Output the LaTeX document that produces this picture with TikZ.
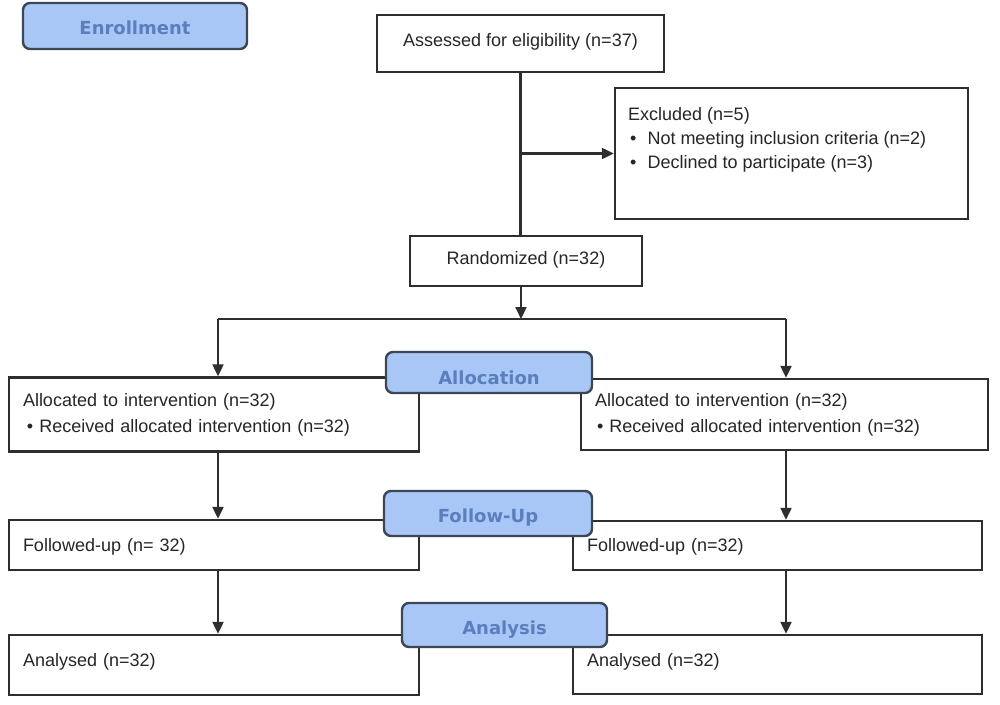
\documentclass[tikz,border=0pt]{standalone}
\usepackage{fontspec}
\setmainfont{Liberation Sans}
\newfontfamily\headfont{DejaVu Sans}
\usetikzlibrary{arrows.meta}
\definecolor{hdrfill}{HTML}{A9C7F6}
\definecolor{hdrtext}{HTML}{5A7EBE}
\definecolor{hdrdraw}{HTML}{3C4654}
\definecolor{linec}{HTML}{2E2E2E}
\definecolor{txt}{HTML}{262626}
\begin{document}
\begin{tikzpicture}[x=1pt,y=-1pt,
  box/.style={draw=linec, line width=2.4pt, fill=white, rectangle, inner sep=0pt,
    font=\fontsize{18}{26}\selectfont, text=txt},
  lbox/.style={box, inner xsep=14pt, align=left},
  hdr/.style={draw=hdrdraw, line width=2.4pt, fill=hdrfill, rounded corners=7pt,
    text=hdrtext, font=\headfont\bfseries\fontsize{18}{22}\selectfont,
    inner sep=0pt, text height=16pt, text depth=0pt},
  lbl/.style={font=\fontsize{18}{24}\selectfont, text=txt, align=left, inner sep=0pt},
  arr/.style={draw=linec, line width=2.2pt, -{Triangle[length=12pt,width=11pt]}},
  ln/.style={draw=linec, line width=2.2pt}
]
\useasboundingbox (0,0) rectangle (1000,704);

% main boxes
\node[box, minimum width=287pt, minimum height=57pt, text depth=7.5pt] (assess) at (520.5,43.5)
  {Assessed for eligibility (n=37)};
\node[box, minimum width=353pt, minimum height=131pt] (excl) at (791.5,153.5) {};
\node[lbl, anchor=north west] (excltxt) at (628,107)
  {Excluded (n=5)\\
   \hspace*{2pt}•\hspace{11pt}Not meeting inclusion criteria (n=2)\\
   \hspace*{2pt}•\hspace{11pt}Declined to participate (n=3)};
\node[box, minimum width=232pt, minimum height=50pt, text depth=6.5pt] (rand) at (526,261)
  {Randomized (n=32)};

\node[lbox, minimum width=410pt, minimum height=74pt, text width=382pt] (allocL) at (214,414.5)
  {Allocated to intervention (n=32)\\ \hspace*{4pt}• Received allocated intervention (n=32)};
\node[lbox, minimum width=407pt, minimum height=71pt, text width=379pt] (allocR) at (784.5,414.5)
  {Allocated to intervention (n=32)\\ \hspace*{2pt}• Received allocated intervention (n=32)};

\node[lbox, minimum width=410pt, minimum height=50pt, text width=382pt, text height=16pt] (followL) at (214,545)
  {Followed-up (n= 32)};
\node[lbox, minimum width=409pt, minimum height=49pt, text width=381pt, text height=16pt] (followR) at (777.5,545.5)
  {Followed-up (n=32)};

\node[lbox, minimum width=410pt, minimum height=60pt, text width=382pt, text depth=9.5pt] (analL) at (214,665)
  {Analysed (n=32)};
\node[lbox, minimum width=409pt, minimum height=59pt, text width=381pt, text depth=9.5pt] (analR) at (777.5,664.5)
  {Analysed (n=32)};

% phase headers
\node[hdr, minimum width=224pt, minimum height=46pt] (enr) at (135,26) {Enrollment};
\node[hdr, minimum width=206pt, minimum height=41pt, text height=23pt] (alloc) at (489,372.5) {Allocation};
\node[hdr, minimum width=208pt, minimum height=45pt, text height=17pt] (fup) at (488,513.5) {Follow-Up};
\node[hdr, minimum width=205pt, minimum height=44pt, text height=18pt] (anal) at (504.5,625) {Analysis};

% connectors
\coordinate (br) at (521,319);
\coordinate (brL) at (218,319);
\coordinate (brR) at (786,319);
\draw[ln] (assess.south) -- (assess.south |- rand.north);
\draw[arr] (assess.south |- excl.west) -- (excl.west);
\draw[arr] (rand.south -| br) -- (br);
\draw[ln] (brL) -- (brR);
\draw[arr] (brL) -- (brL |- allocL.north);
\draw[arr] (brR) -- (brR |- allocR.north);
\draw[arr] (allocL.south -| brL) -- (followL.north -| brL);
\draw[arr] (allocR.south -| brR) -- (followR.north -| brR);
\draw[arr] (followL.south -| brL) -- (analL.north -| brL);
\draw[arr] (followR.south -| brR) -- (analR.north -| brR);
\end{tikzpicture}
\end{document}
